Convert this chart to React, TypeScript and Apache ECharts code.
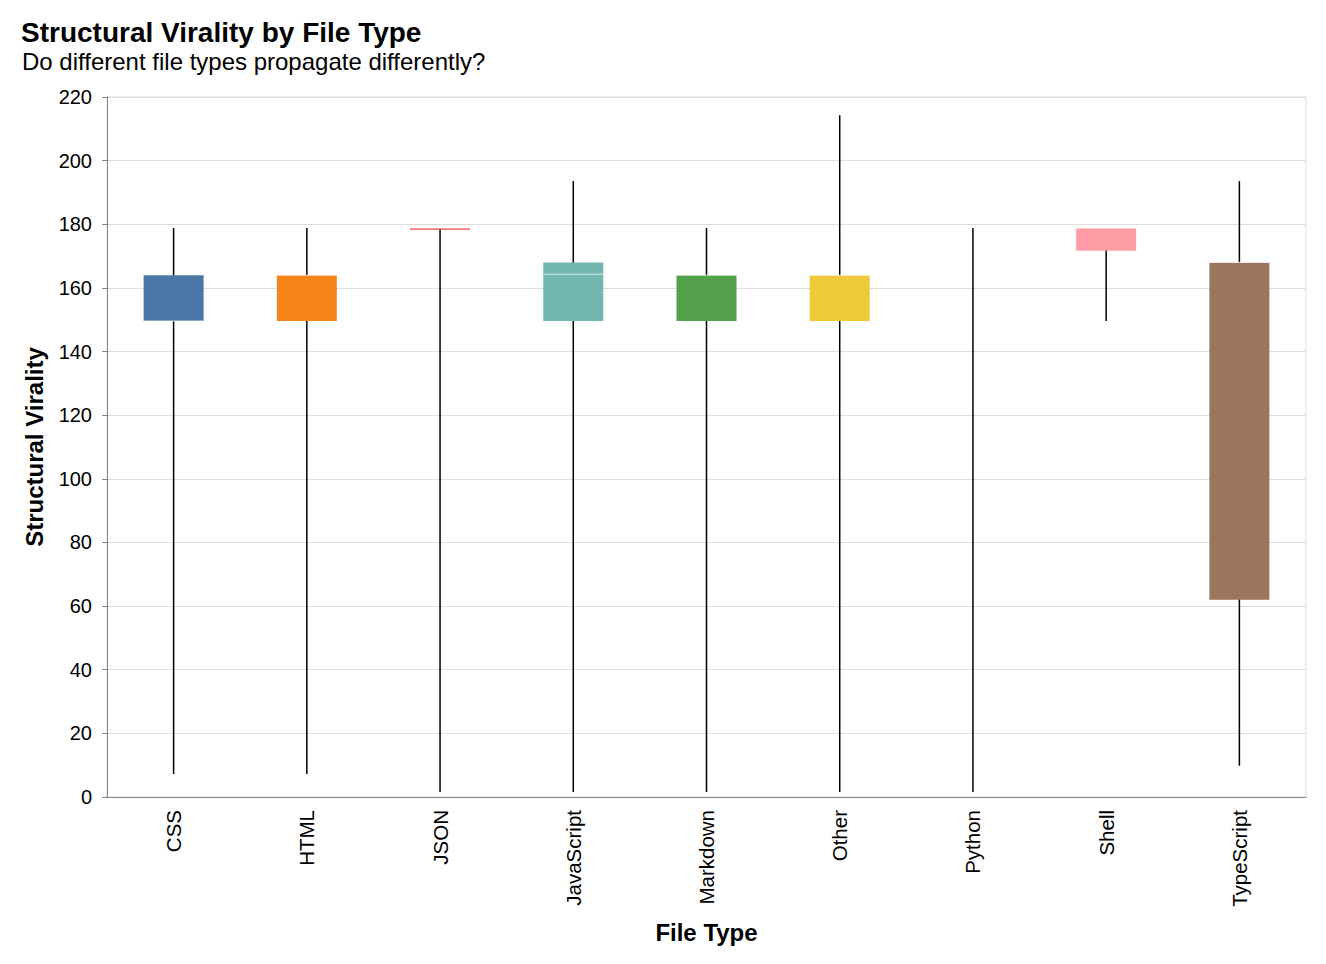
import React, { useEffect, useRef } from "react";
import * as echarts from "echarts";

const categories = ["CSS", "HTML", "JSON", "JavaScript", "Markdown", "Other", "Python", "Shell", "TypeScript"];
const lowerWhisker = [7.2, 7.2, 1.6, 1.6, 1.6, 1.6, 1.6, 149.6, 9.8];
const q1Values = [149.6, 149.6, 178.3, 149.6, 149.6, 149.6, 178.8, 171.7, 62];
const medianValues = [149.6, 164, 178.8, 164.3, 164, 164, 178.8, 178.8, 168];
const q3Values = [164, 164, 178.8, 168, 164, 164, 178.8, 178.8, 168];
const upperWhisker = [178.8, 178.8, 178.8, 193.6, 178.8, 214.3, 178.8, 178.8, 193.6];
const colors = ["#4c78a8", "#f58518", "#e45756", "#72b7b2", "#54a24b", "#eeca3b", "#b279a2", "#ff9da6", "#9d755d"];

const FONT = "'Liberation Sans', Arial, Helvetica, sans-serif";

export default function App() {
  const ref = useRef<HTMLDivElement>(null);
  useEffect(() => {
    const chart = echarts.init(ref.current!, null, { renderer: "svg" });
    const data = categories.map((c, i) => [i, lowerWhisker[i], q1Values[i], medianValues[i], q3Values[i], upperWhisker[i]]);
    const renderItem = (params: any, api: any) => {
      const idx = api.value(0);
      const x = api.coord([idx, 0])[0];
      const yLow = api.coord([idx, api.value(1)])[1];
      const yQ1 = api.coord([idx, api.value(2)])[1];
      const yMed = api.coord([idx, api.value(3)])[1];
      const yQ3 = api.coord([idx, api.value(4)])[1];
      const yHigh = api.coord([idx, api.value(5)])[1];
      const half = 30;
      const children: any[] = [
        {
          type: "line",
          shape: { x1: x, y1: yLow, x2: x, y2: yHigh },
          style: { stroke: "#000", lineWidth: 1.5 },
        },
      ];
      if (yQ1 - yQ3 > 0.1) {
        children.push({
          type: "rect",
          shape: { x: x - half, y: yQ3, width: half * 2, height: yQ1 - yQ3 },
          style: { fill: colors[idx] },
        });
        children.push({
          type: "line",
          shape: { x1: x - half, y1: yMed, x2: x + half, y2: yMed },
          style: { stroke: "#fff", lineWidth: 1, opacity: 0.7 },
        });
      }
      return { type: "group", children };
    };
    chart.setOption({
      animation: false,
      title: [
        {
          text: "Structural Virality by File Type",
          left: 13,
          top: 10,
          padding: 0,
          textStyle: { fontFamily: FONT, fontSize: 28, fontWeight: "bold", color: "#000" },
        },
        {
          text: "Do different file types propagate differently?",
          left: 14,
          top: 41,
          padding: 0,
          textStyle: { fontFamily: FONT, fontSize: 24, fontWeight: "normal", color: "#000" },
        },
      ],
      grid: { left: 99, top: 89, width: 1199, height: 700, show: true, borderColor: "#ddd", borderWidth: 1 },
      xAxis: {
        type: "category",
        data: categories,
        name: "File Type",
        nameLocation: "middle",
        nameGap: 123,
        nameTextStyle: { fontFamily: FONT, fontSize: 24, fontWeight: "bold", color: "#000" },
        axisLine: { lineStyle: { color: "#888", width: 1 } },
        axisTick: { alignWithLabel: true, length: 5, lineStyle: { color: "#888" } },
        axisLabel: { rotate: 90, fontFamily: FONT, fontSize: 20.5, color: "#000", margin: 13 },
        splitLine: { show: false },
      },
      yAxis: {
        type: "value",
        min: 0,
        max: 220,
        interval: 20,
        name: "Structural Virality",
        nameLocation: "middle",
        nameGap: 61,
        nameTextStyle: { fontFamily: FONT, fontSize: 24, fontWeight: "bold", color: "#000" },
        axisLine: { show: true, lineStyle: { color: "#888", width: 1 } },
        axisTick: { show: true, length: 5, lineStyle: { color: "#888" } },
        axisLabel: { fontFamily: FONT, fontSize: 20, color: "#000", margin: 15 },
        splitLine: { show: true, lineStyle: { color: "#ddd", width: 1 } },
      },
      series: [
        {
          type: "custom",
          renderItem,
          data,
          encode: { x: 0, y: [1, 2, 3, 4, 5] },
        },
      ],
    });
    return () => chart.dispose();
  }, []);
  return <div ref={ref} style={{ width: 1310, height: 948 }} />;
}
